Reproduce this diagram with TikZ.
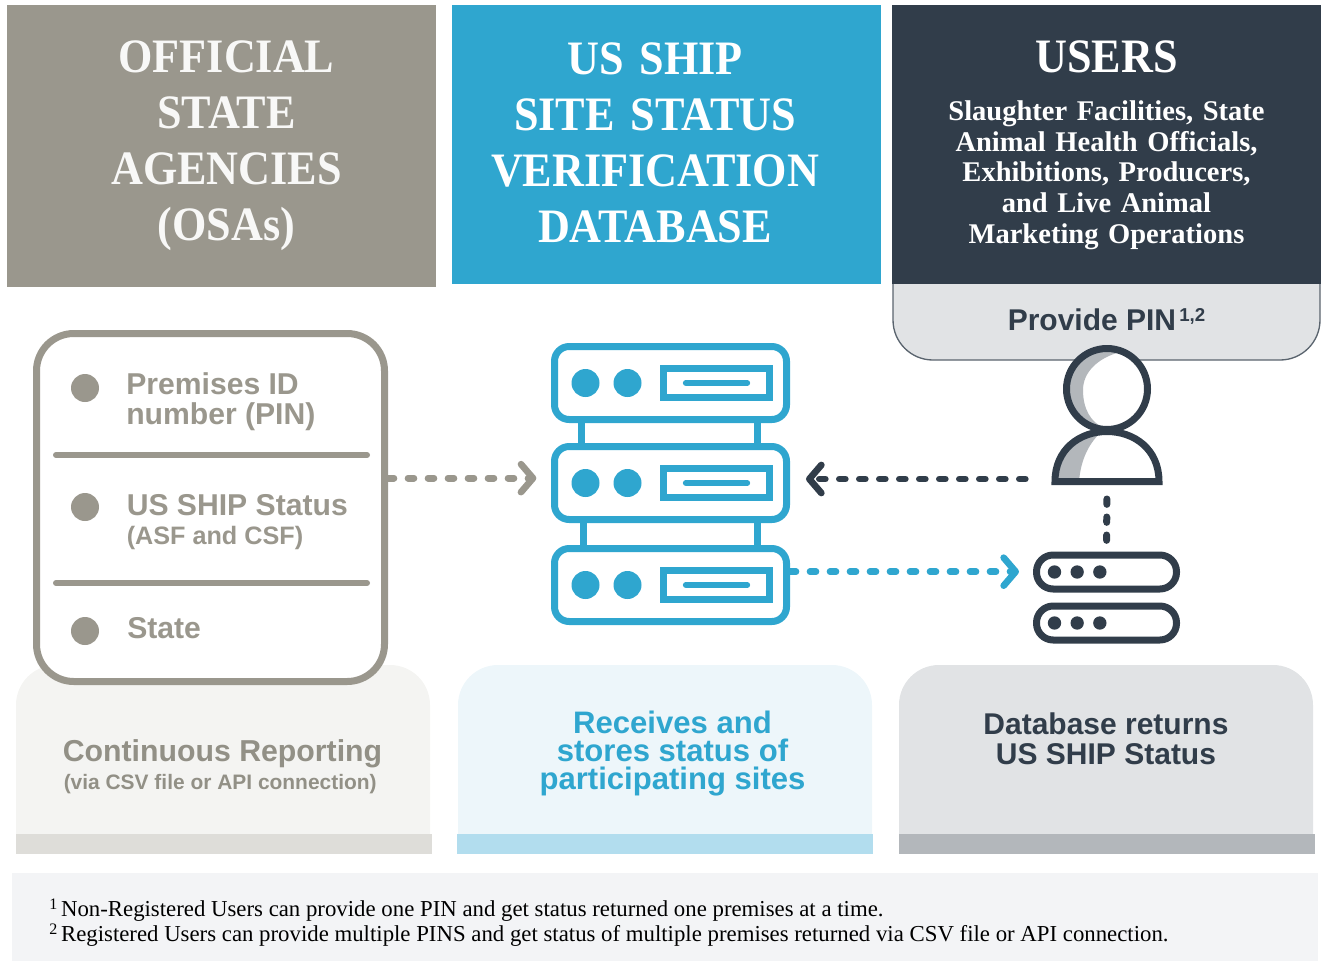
\documentclass[tikz,border=0pt]{standalone}
\usepackage{fontspec}
\setmainfont{Liberation Serif}
\setsansfont{Liberation Sans}
\newfontfamily\headfont[FakeStretch=.92]{Liberation Serif}
\usetikzlibrary{positioning}
\usetikzlibrary{arrows.meta}
\definecolor{osa-grey}{HTML}{9A978D}
\definecolor{ship-blue}{HTML}{2FA6CF}
\definecolor{user-dark}{HTML}{313D4A}
\definecolor{shade-grey}{HTML}{B3B7BB}
\definecolor{pale-grey}{HTML}{F4F4F2}
\definecolor{pale-blue}{HTML}{EDF6FA}
\definecolor{pale-dark}{HTML}{E1E3E5}
\definecolor{strip-grey}{HTML}{DEDDD9}
\definecolor{strip-blue}{HTML}{B2DDEE}
\definecolor{foot-grey}{HTML}{F3F4F6}
\tikzset{
  flow/.style={line width=5pt, line cap=round, dash pattern=on 4.5pt off 10.5pt,
    -{Straight Barb[length=9pt, width=21pt, round]}},
}

\begin{document}
\begin{tikzpicture}[
  x=.75pt, y=-.75pt,
  header/.style={align=center, text width=300pt, inner sep=0pt, minimum height=#1, text=white},
  title/.style={font=\headfont\bfseries\fontsize{36}{42}\selectfont},
  strip/.style={inner sep=0pt, minimum width=312pt, minimum height=15pt},
  server/.style={draw=ship-blue, line width=5.25pt, fill=white, rounded corners=11pt, minimum width=174pt, minimum height=54.75pt, inner sep=0pt},
  blink/.style={circle, fill=ship-blue, minimum size=21pt, inner sep=0pt},
  display/.style={draw=ship-blue, line width=5.25pt, minimum width=79.5pt, minimum height=21.75pt, inner sep=0pt},
  bar/.style={ship-blue, line width=4.5pt, line cap=round},
  rack/.style={ship-blue, line width=5.25pt},
  bullet/.style={circle, fill=osa-grey, minimum size=21pt, inner sep=0pt},
  field/.style={anchor=west, align=left, inner sep=0pt, text=osa-grey, font=\sffamily\bfseries\fontsize{22.6}{22.5}\selectfont},
  rule/.style={osa-grey, line width=4.5pt, line cap=round},
  stack/.style={draw=user-dark, line width=5.25pt, rounded corners=12.5pt, minimum width=105pt, minimum height=25.5pt, inner sep=0pt},
  led/.style={circle, fill=user-dark, minimum size=10pt, inner sep=0pt},
  caption/.style={align=center, inner sep=0pt, font=\sffamily\bfseries\fontsize{23.3}{21}\selectfont}
]

% Headers
\fill[osa-grey] (7,5) rectangle (436,287);
\node[header=211.5pt, title, text=white!93!osa-grey] (agencies) at (226.5,146) {OFFICIAL\\STATE\\AGENCIES\\(OSAs)};
\node[fill=ship-blue, inner sep=0pt, minimum width=321.75pt, minimum height=209.25pt] (database) at (666.5,144.5) {};
\node[header=209.25pt, title] (databasetext) at (655,143) {US SHIP\\SITE STATUS\\VERIFICATION\\DATABASE};
\node[fill=user-dark, inner sep=0pt, minimum width=321.75pt, minimum height=209.25pt, right=7.9pt of database] (users) {};
\node[header=30pt, title] (userstitle) at (1106.5,57) {USERS};
\node[header=120pt, font=\bfseries\fontsize{21.4}{23}\selectfont] (userstext) at (1106.5,175) {Slaughter Facilities, State\\Animal Health Officials,\\Exhibitions, Producers,\\and Live Animal\\Marketing Operations};

% Provide PIN
\draw[fill=pale-dark, draw=user-dark!80, line width=1pt] (893,284) [rounded corners=30pt] -- (893,360) -- (1320,360) [sharp corners] -- (1320,284);
\node[inner sep=0pt, text=user-dark, font=\sffamily\bfseries\fontsize{22.5}{22.5}\selectfont] (provide) at (1106.5,319.5) {Provide PIN\raisebox{6.5pt}{\fontsize{14}{14}\selectfont\,1,2}};

% Panels
\fill[pale-grey] (16,834) [rounded corners=30pt] -- (16,665) -- (430,665) [sharp corners] -- (430,834) -- cycle;
\fill[pale-blue] (458,834) [rounded corners=30pt] -- (458,665) -- (872,665) [sharp corners] -- (872,834) -- cycle;
\fill[pale-dark] (899,834) [rounded corners=30pt] -- (899,665) -- (1313,665) [sharp corners] -- (1313,834) -- cycle;
\node[strip, fill=strip-grey] (stripa) at (224,843.5) {};
\node[strip, fill=strip-blue, right=18.2pt of stripa.east, anchor=west, yshift=-.4pt] (stripb) {};
\node[strip, fill=shade-grey, right=19.3pt of stripb] (stripc) {};
\node[caption, text=osa-grey!95!black, anchor=west, font=\sffamily\bfseries\fontsize{22.7}{21}\selectfont] (reporting) at (62.5,754) {Continuous Reporting};
\node[anchor=west, inner sep=0pt, text=osa-grey!95!black, font=\sffamily\bfseries\fontsize{15.7}{16.5}\selectfont] (via) at (63.5,784) {(via CSV file or API connection)};
\node[caption, text=ship-blue] (receives) at (672.5,754) {Receives and\\stores status of\\participating sites};
\node[caption, text=user-dark, font=\sffamily\bfseries\fontsize{22.5}{22.5}\selectfont] (returns) at (1106,739) {Database returns\\US SHIP Status};

% Card
\node[draw=osa-grey, line width=5.25pt, fill=white, rounded corners=28pt, inner sep=0pt, minimum width=261pt, minimum height=261pt] (card) at (210.5,507.5) {};
\node[bullet] (dota) at (85,388) {};
\node[bullet] (dotb) at (85,507) {};
\node[bullet] (dotc) at (85,631) {};
\node[field] (pin) at (126,402) {Premises ID\\number (PIN)};
\node[field] (status) at (126.5,505) {US SHIP Status};
\node[field, font=\sffamily\bfseries\fontsize{18.9}{18.5}\selectfont] (disease) at (126.5,538) {(ASF and CSF)};
\node[field] (state) at (127,628) {State};
\coordinate (rulea) at (56,455);
\coordinate (ruleb) at (56,583);
\draw[rule] (rulea) -- ++(311,0);
\draw[rule] (ruleb) -- ++(311,0);

% Servers
\node[server] (servertop) at (670.5,383) {};
\node[server, below=15pt of servertop] (servermid) {};
\node[server, below=16.5pt of servermid] (serverlow) {};
\draw[rack] ([xshift=-66.6pt]servertop.south) -- ([xshift=-66.6pt]servermid.north);
\draw[rack] ([xshift=64.9pt]servertop.south) -- ([xshift=64.9pt]servermid.north);
\draw[rack] ([xshift=-65.5pt]servermid.south) -- ([xshift=-65.5pt]serverlow.north);
\draw[rack] ([xshift=64.9pt]servermid.south) -- ([xshift=64.9pt]serverlow.north);
\node[blink] at ([xshift=-63.75pt]servertop) (blinka) {};
\node[blink] at ([xshift=-32.25pt]servertop) (blinkb) {};
\node[display] at ([xshift=34.5pt]servertop) (displaya) {};
\draw[bar] ([xshift=-23pt]displaya.center) -- ([xshift=23pt]displaya.center);
\node[blink] at ([xshift=-63.75pt]servermid) (blinkc) {};
\node[blink] at ([xshift=-32.25pt]servermid) (blinkd) {};
\node[display] at ([xshift=34.5pt]servermid) (displayb) {};
\draw[bar] ([xshift=-23pt]displayb.center) -- ([xshift=23pt]displayb.center);
\node[blink] at ([xshift=-63.75pt]serverlow) (blinke) {};
\node[blink] at ([xshift=-32.25pt]serverlow) (blinkf) {};
\node[display] at ([xshift=34.5pt]serverlow) (displayc) {};
\draw[bar] ([xshift=-23pt]displayc.center) -- ([xshift=23pt]displayc.center);

% User
\fill[white] (1055,481.5) .. controls (1055,449) and (1080,431.5) .. (1107,431.5) .. controls (1134,431.5) and (1159,449) .. (1159,481.5) -- cycle;
\fill[shade-grey] (1100,433) .. controls (1075,436) and (1056,455) .. (1056,481) -- (1079,481) .. controls (1081,460) and (1088,445) .. (1100,433) -- cycle;
\draw[user-dark, line width=5.25pt] (1055,481.5) .. controls (1055,449) and (1080,431.5) .. (1107,431.5) .. controls (1134,431.5) and (1159,449) .. (1159,481.5) -- cycle;
\fill[white] (1107,389) circle[radius=30pt];
\fill[shade-grey] (1120,352) .. controls (1085,345) and (1065,365) .. (1067,392) .. controls (1068,410) and (1085,428) .. (1104,428) .. controls (1090,422) and (1083,408) .. (1083,390) .. controls (1083,372) and (1098,358) .. (1120,352) -- cycle;
\node[circle, draw=user-dark, line width=5.25pt, minimum size=60.75pt, inner sep=0pt] (head) at (1107,389) {};
\coordinate (bodyleft) at (1052,479);
\coordinate (bodybase) at (1107,485);

% Storage
\node[stack] (storetop) at (1106.5,572) {};
\node[stack, below=7.5pt of storetop] (storelow) {};
\node[led] at ([xshift=-39pt]storetop) (leda) {};
\node[led] at ([xshift=-22pt]storetop) (ledb) {};
\node[led] at ([xshift=-5pt]storetop) (ledc) {};
\node[led] at ([xshift=-39pt]storelow) (ledd) {};
\node[led] at ([xshift=-22pt]storelow) (lede) {};
\node[led] at ([xshift=-5pt]storelow) (ledf) {};

% Edges
\draw[flow, osa-grey, shorten >=11pt] ([yshift=22pt]card.east) -- ([yshift=22pt]card.east -| servermid.west);
\draw[flow, user-dark, shorten <=20pt, shorten >=12pt] (bodyleft) -- (bodyleft -| servermid.east);
\draw[flow, ship-blue, shorten >=10.5pt] ([yshift=10pt]serverlow.east) -- ([yshift=10pt]serverlow.east -| storetop.west);
\draw[user-dark, line width=5.25pt, line cap=round, dash pattern=on 4pt off 9.5pt, shorten <=10.5pt, shorten >=8pt] (bodybase) -- (storetop.north);

% Footnotes
\fill[foot-grey] (12,873) rectangle (1318,961);
\node[anchor=west, inner sep=0pt, font=\fontsize{17.1}{18.75}\selectfont, align=left] (notes) at (49,922.5) {\raisebox{5pt}{\fontsize{12}{12}\selectfont 1}\,Non-Registered Users can provide one PIN and get status returned one premises at a time.\\\raisebox{5pt}{\fontsize{12}{12}\selectfont 2}\,Registered Users can provide multiple PINS and get status of multiple premises returned via CSV file or API connection.};

\useasboundingbox (0,0) rectangle (1322,961);
\end{tikzpicture}
\end{document}
